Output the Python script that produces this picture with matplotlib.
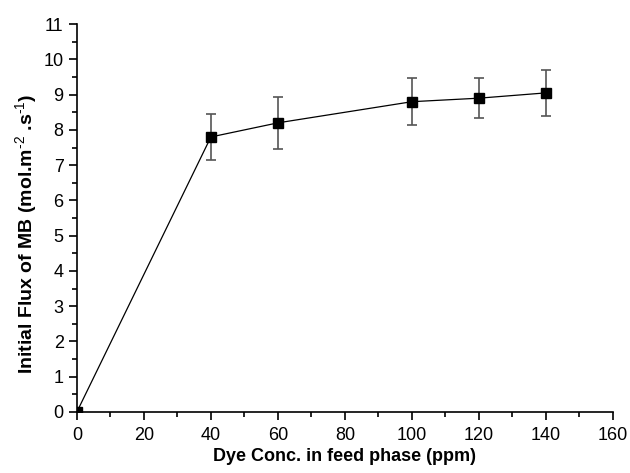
import numpy as np
import matplotlib.pyplot as plt
from matplotlib.ticker import MultipleLocator

plt.rcParams['font.family'] = ['Liberation Sans', 'DejaVu Sans']
plt.rcParams['mathtext.fontset'] = 'custom'
plt.rcParams['mathtext.rm'] = 'Liberation Sans'
plt.rcParams['mathtext.bf'] = 'Liberation Sans:bold'

# Data
conc = [0, 40, 60, 100, 120, 140]
flux = [0.0, 7.8, 8.2, 8.8, 8.9, 9.05]
err = [0.0, 0.66, 0.74, 0.67, 0.57, 0.65]

fig = plt.figure(figsize=(6.3, 4.73), dpi=100)
ax = fig.add_axes([0.122, 0.129, 0.851, 0.820])

ax.errorbar(conc, flux, yerr=err, color='black', lw=0.9, marker='s', ms=7,
            ecolor='#555555', elinewidth=1.2, capsize=3.5, capthick=1.2)

ax.set_xlim(0, 160)
ax.set_ylim(0, 11)
ax.xaxis.set_major_locator(MultipleLocator(20))
ax.xaxis.set_minor_locator(MultipleLocator(10))
ax.yaxis.set_major_locator(MultipleLocator(1))
ax.yaxis.set_minor_locator(MultipleLocator(0.5))

for s in ['top', 'right']:
    ax.spines[s].set_visible(False)
for s in ['left', 'bottom']:
    ax.spines[s].set_linewidth(1.2)
ax.tick_params(which='major', direction='out', length=6, width=1.2, labelsize=13)
ax.tick_params(axis='x', which='major', pad=5)
ax.tick_params(which='minor', direction='out', length=3.5, width=1.2)

ax.set_xlabel('Dye Conc. in feed phase (ppm)', fontsize=13, fontweight='bold', labelpad=3)
ax.set_ylabel(r'Initial Flux of MB (mol.m$^{\text{-2}}$ .s$^{\text{-1}}$)',
              fontsize=14, fontweight='bold')
ax.yaxis.set_label_coords(-0.068, 0.46)

fig.savefig('out.png', dpi=100)
